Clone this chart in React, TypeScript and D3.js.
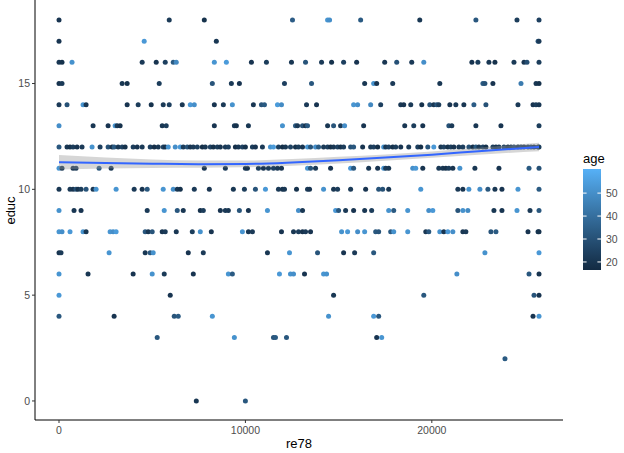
import React from "react";
import * as d3 from "d3";

// [re78, age] pairs for each educ level
const row18: [number, number][] = [[0,20],[5914,22],[7795,19],[12526,34],[14408,52],[14515,50],[16182,33],[19354,21],[22364,32],[24569,23],[25750,24]];
const row17: [number, number][] = [[0,20],[4570,53],[8440,21],[25700,31],[25750,22]];
const row16: [number, number][] = [[0,21],[161,19],[699,51],[4462,22],[5215,20],[5699,24],[6129,33],[6290,48],[8333,52],[8978,54],[10322,20],[11128,23],[12472,21],[13225,31],[14085,22],[14623,19],[15268,24],[15967,20],[17472,21],[18117,30],[18923,22],[19569,50],[22149,20],[22472,23],[23063,21],[23386,19],[24407,22],[24945,20],[25106,29],[25750,23]];
const row15: [number, number][] = [[0,20],[161,22],[3387,21],[3656,19],[5376,23],[8225,31],[9247,22],[9677,20],[12096,24],[13548,32],[16397,21],[16880,51],[17042,20],[17902,22],[20429,21],[22740,33],[22848,30],[23278,20],[24784,44],[25590,21],[25750,19]];
const row14: [number, number][] = [[0,22],[430,30],[1290,52],[1452,21],[3656,20],[4247,23],[4946,19],[5591,22],[5914,24],[6612,21],[7043,53],[7258,50],[8333,20],[8817,22],[9300,51],[10429,21],[10860,31],[11021,33],[11720,54],[11935,49],[13279,22],[13816,20],[15805,52],[16020,50],[16719,48],[17257,24],[18332,21],[18493,20],[18870,22],[19461,19],[19892,30],[20106,21],[20268,32],[20375,23],[20967,20],[21289,22],[21719,21],[22257,34],[22902,30],[24622,22],[25429,20],[25590,23],[25750,21]];
const row13: [number, number][] = [[0,50],[1828,21],[2634,20],[3011,52],[3118,22],[3279,19],[5537,21],[5752,23],[8333,20],[9408,22],[9515,19],[10161,21],[11988,51],[12687,32],[12795,22],[13064,30],[13225,20],[13332,33],[14408,21],[14730,31],[15106,22],[15322,50],[16343,20],[18547,21],[19031,23],[19515,20],[20913,30],[21074,22],[22364,21],[23708,20],[25750,23]];
const row12: [number, number][] = [[0,32],[430,21],[591,19],[753,23],[968,20],[1236,22],[1774,51],[2204,24],[2634,30],[2849,18],[2957,33],[3172,21],[3387,25],[3548,19],[3978,23],[4193,20],[4462,22],[4892,24],[5107,18],[5322,21],[5591,25],[5699,19],[5860,52],[6236,50],[6505,53],[6666,23],[6881,31],[7043,20],[7204,22],[7419,24],[7688,18],[7849,21],[8118,25],
[8279,19],[8494,23],[8655,20],[8924,22],[9085,24],[9462,18],[9623,21],[9838,25],[9999,19],[10376,23],[10537,20],[10913,22],[11343,51],[11505,54],[11773,24],[11988,18],[12150,21],[12419,25],[12687,19],[12848,23],[13064,20],[13332,52],[13494,31],[13763,50],[13924,33],[14193,22],[14408,24],[14569,18],[14730,21],[14945,25],[15106,19],[15268,23],[15644,30],[15805,32],[16289,20],[16719,22],[16880,24],[17095,18],[17418,51],
[17526,21],[17687,25],[17902,19],[18063,23],[18332,20],[18762,22],[19246,24],[19407,18],[19784,31],[20106,53],[20483,21],[20644,25],[20859,19],[21020,23],[21182,20],[21450,22],[21665,24],[21988,30],[22203,18],[22364,33],[22525,21],[22740,25],[22902,19],[23278,23],[23440,20],[23601,22],[23870,24],[24085,18],[24246,21],[24407,25],[24622,19],[24784,23],[24945,20],[25160,22],[25321,24],[25483,18],[25698,21],[25750,23]];
const row11: [number, number][] = [[0,52],[161,21],[753,20],[914,22],[2150,32],[2796,21],[7795,20],[8924,22],[9999,21],[10107,19],[10698,23],[10967,20],[11236,22],[11505,24],[11720,21],[11935,20],[13332,52],[13494,31],[13763,22],[14569,20],[15644,53],[15805,32],[16612,21],[17095,20],[17418,51],[17526,22],[17687,21],[18977,50],[19138,53],[19515,20],[20375,22],[20590,21],[20751,19],[20913,23],[21128,20],[21504,51],[22310,21],[23601,20],[25214,33],[25750,30]];
const row10: [number, number][] = [[0,21],[591,22],[753,20],[914,30],[1021,19],[1183,23],[1452,31],[1828,21],[1989,51],[3064,52],[4032,22],[4462,20],[4731,32],[5591,52],[6129,50],[6344,21],[6505,19],[7258,22],[8064,20],[9354,21],[9946,23],[10537,31],[11075,53],[11773,22],[11988,20],[12096,21],[12741,19],[13332,22],[13440,20],[14193,51],[14730,21],[14945,23],[15644,22],[16450,20],[17149,31],[17364,30],[17687,21],[19407,52],[21397,22],[21665,20],[21988,51],[22579,50],[23009,32],[23386,21],[23762,20],[24622,52],[25750,33]];
const row9: [number, number][] = [[0,51],[806,21],[1183,20],[4731,22],[5645,52],[6344,32],[6666,21],[7580,19],[7741,23],[8655,20],[8924,22],[9085,21],[9677,31],[10161,20],[11182,52],[12848,50],[13064,21],[14838,53],[14999,32],[15375,22],[15805,20],[16397,21],[16773,23],[17687,51],[17956,33],[18708,52],[19838,50],[20053,53],[21397,31],[21665,51],[21934,49],[23332,21],[23762,20],[24569,52],[25268,22],[25750,32]];
const row8: [number, number][] = [[0,52],[161,50],[591,53],[1290,51],[1452,21],[2742,52],[2903,50],[3064,54],[4623,32],[4785,21],[5000,31],[5537,20],[5699,22],[6290,21],[7150,23],[7580,51],[8171,20],[9838,52],[10161,21],[10376,22],[11935,20],[12580,21],[12848,23],[13064,19],[13225,22],[13494,20],[15160,51],[15483,53],[16020,50],[16397,52],[16988,32],[17149,31],[17794,33],[17956,51],[18708,52],[19676,21],[19838,32],[20429,51],[20644,20],[20859,53],[21128,50],[21665,21],[21827,22],[23171,31],[23440,33],[25160,20],[25698,21],[25750,19]];
const row7: [number, number][] = [[0,20],[108,22],[2688,52],[4623,21],[4892,32],[5053,51],[6935,20],[7741,22],[11182,21],[12365,52],[13870,31],[15268,20],[15859,22],[16880,32],[22848,51],[25750,53]];
const row6: [number, number][] = [[0,52],[1559,21],[3978,20],[5000,51],[5645,22],[7204,20],[9085,52],[9300,33],[11827,53],[12419,51],[12580,50],[13171,20],[14193,52],[14354,51],[21343,50],[25214,32],[25750,20]];
const row5: [number, number][] = [[0,53],[5967,20],[14730,21],[19569,32],[25483,31],[25750,20]];
const row4: [number, number][] = [[0,32],[2957,20],[6182,31],[6397,33],[8225,52],[14461,51],[16880,53],[17149,32],[25429,20],[25750,52]];
const row3: [number, number][] = [[5268,32],[9408,51],[11505,31],[11612,33],[12204,32],[17042,20],[17311,52]];
const row2: [number, number][] = [[23924,33]];
const row0: [number, number][] = [[7365,21],[9999,32]];

const educRows: [number, [number, number][]][] = [
  [18, row18], [17, row17], [16, row16], [15, row15], [14, row14], [13, row13],
  [12, row12], [11, row11], [10, row10], [9, row9], [8, row8], [7, row7],
  [6, row6], [5, row5], [4, row4], [3, row3], [2, row2], [0, row0],
];

// loess smooth (fit and half-width of the confidence band)
const smoothX = [0, 2500, 5000, 7500, 10000, 12500, 15000, 17500, 20000, 22500, 25750];
const smoothFit = [11.28, 11.24, 11.21, 11.19, 11.2, 11.27, 11.38, 11.5, 11.64, 11.8, 12.0];
const smoothSe = [0.34, 0.26, 0.2, 0.17, 0.16, 0.16, 0.16, 0.15, 0.15, 0.16, 0.2];

const xTicks = [0, 10000, 20000];
const yTicks = [0, 5, 10, 15];
const ageTicks = [20, 30, 40, 50];
const ageRange = [16.5, 60.5];
const re78Max = 25750;

export default function App() {
  const W = 624, H = 453;
  const pl = 35, pr = 563, pt = 1, pb = 420;
  const x = d3.scaleLinear().domain([-0.05 * re78Max, 1.05 * re78Max]).range([pl, pr]);
  const y = d3.scaleLinear().domain([-0.9, 18.9]).range([pb, pt]);
  const color = d3.scaleLinear<string>().domain(ageRange).range(["#132B43", "#56B1F7"]).interpolate(d3.interpolateLab);

  const pts: { re78: number; educ: number; age: number }[] = [];
  educRows.forEach(([e, arr]) => arr.forEach(([r, a]) => pts.push({ re78: r, educ: e, age: a })));

  const sm = smoothX.map((v, i) => ({ x: v, f: smoothFit[i], se: smoothSe[i] }));
  const area = d3.area<any>().x(d => x(d.x)).y0(d => y(d.f - d.se)).y1(d => y(d.f + d.se)).curve(d3.curveMonotoneX);
  const line = d3.line<any>().x(d => x(d.x)).y(d => y(d.f)).curve(d3.curveMonotoneX);

  // legend
  const lbX = 583, lbW = 18, lbTop = 169, lbBot = 270;
  const ageY = d3.scaleLinear().domain(ageRange).range([lbBot, lbTop]);
  const stops = d3.range(0, 11).map(i => i / 10);

  const font = "'Liberation Sans', Arial, sans-serif";

  return (
    <svg width={W} height={H} style={{ position: "absolute", left: 0, top: 0, background: "#fff" }} fontFamily={font}>
      <defs>
        <linearGradient id="ageGrad" x1="0" y1="1" x2="0" y2="0">
          {stops.map(s => (
            <stop key={s} offset={s} stopColor={color(ageRange[0] + s * (ageRange[1] - ageRange[0]))} />
          ))}
        </linearGradient>
      </defs>
      <rect x={0} y={0} width={W} height={H} fill="#fff" />
      {pts.map((p, i) => (
        <circle key={i} cx={x(p.re78)} cy={y(p.educ)} r={2.5} fill={color(p.age)} />
      ))}
      <path d={area(sm) || ""} fill="#999999" fillOpacity={0.4} />
      <path d={line(sm) || ""} fill="none" stroke="#3366FF" strokeWidth={2} />

      {/* axes */}
      <line x1={pl} x2={pl} y1={pt - 1} y2={pb} stroke="#000" strokeWidth={1} />
      <line x1={pl} x2={pr} y1={pb} y2={pb} stroke="#000" strokeWidth={1} />
      {yTicks.map(t => (
        <g key={t}>
          <line x1={pl - 3} x2={pl} y1={y(t)} y2={y(t)} stroke="#333" />
          <text x={pl - 5} y={y(t)} dy="0.35em" textAnchor="end" fontSize={10.5} fill="#4D4D4D">{t}</text>
        </g>
      ))}
      {xTicks.map(t => (
        <g key={t}>
          <line x1={x(t)} x2={x(t)} y1={pb} y2={pb + 3} stroke="#333" />
          <text x={x(t)} y={pb + 14} textAnchor="middle" fontSize={10.5} fill="#4D4D4D">{t}</text>
        </g>
      ))}
      <text x={(pl + pr) / 2} y={448} textAnchor="middle" fontSize={13} fill="#000">re78</text>
      <text transform={`translate(15,${(pt + pb) / 2}) rotate(-90)`} textAnchor="middle" fontSize={13} fill="#000">educ</text>

      {/* legend */}
      <text x={lbX} y={163} fontSize={13} fill="#000">age</text>
      <rect x={lbX} y={lbTop} width={lbW} height={lbBot - lbTop} fill="url(#ageGrad)" />
      {ageTicks.map(t => (
        <g key={t}>
          <line x1={lbX} x2={lbX + 3.6} y1={ageY(t)} y2={ageY(t)} stroke="#fff" />
          <line x1={lbX + lbW - 3.6} x2={lbX + lbW} y1={ageY(t)} y2={ageY(t)} stroke="#fff" />
          <text x={lbX + lbW + 5} y={ageY(t)} dy="0.35em" fontSize={10.5} fill="#4D4D4D">{t}</text>
        </g>
      ))}
    </svg>
  );
}
